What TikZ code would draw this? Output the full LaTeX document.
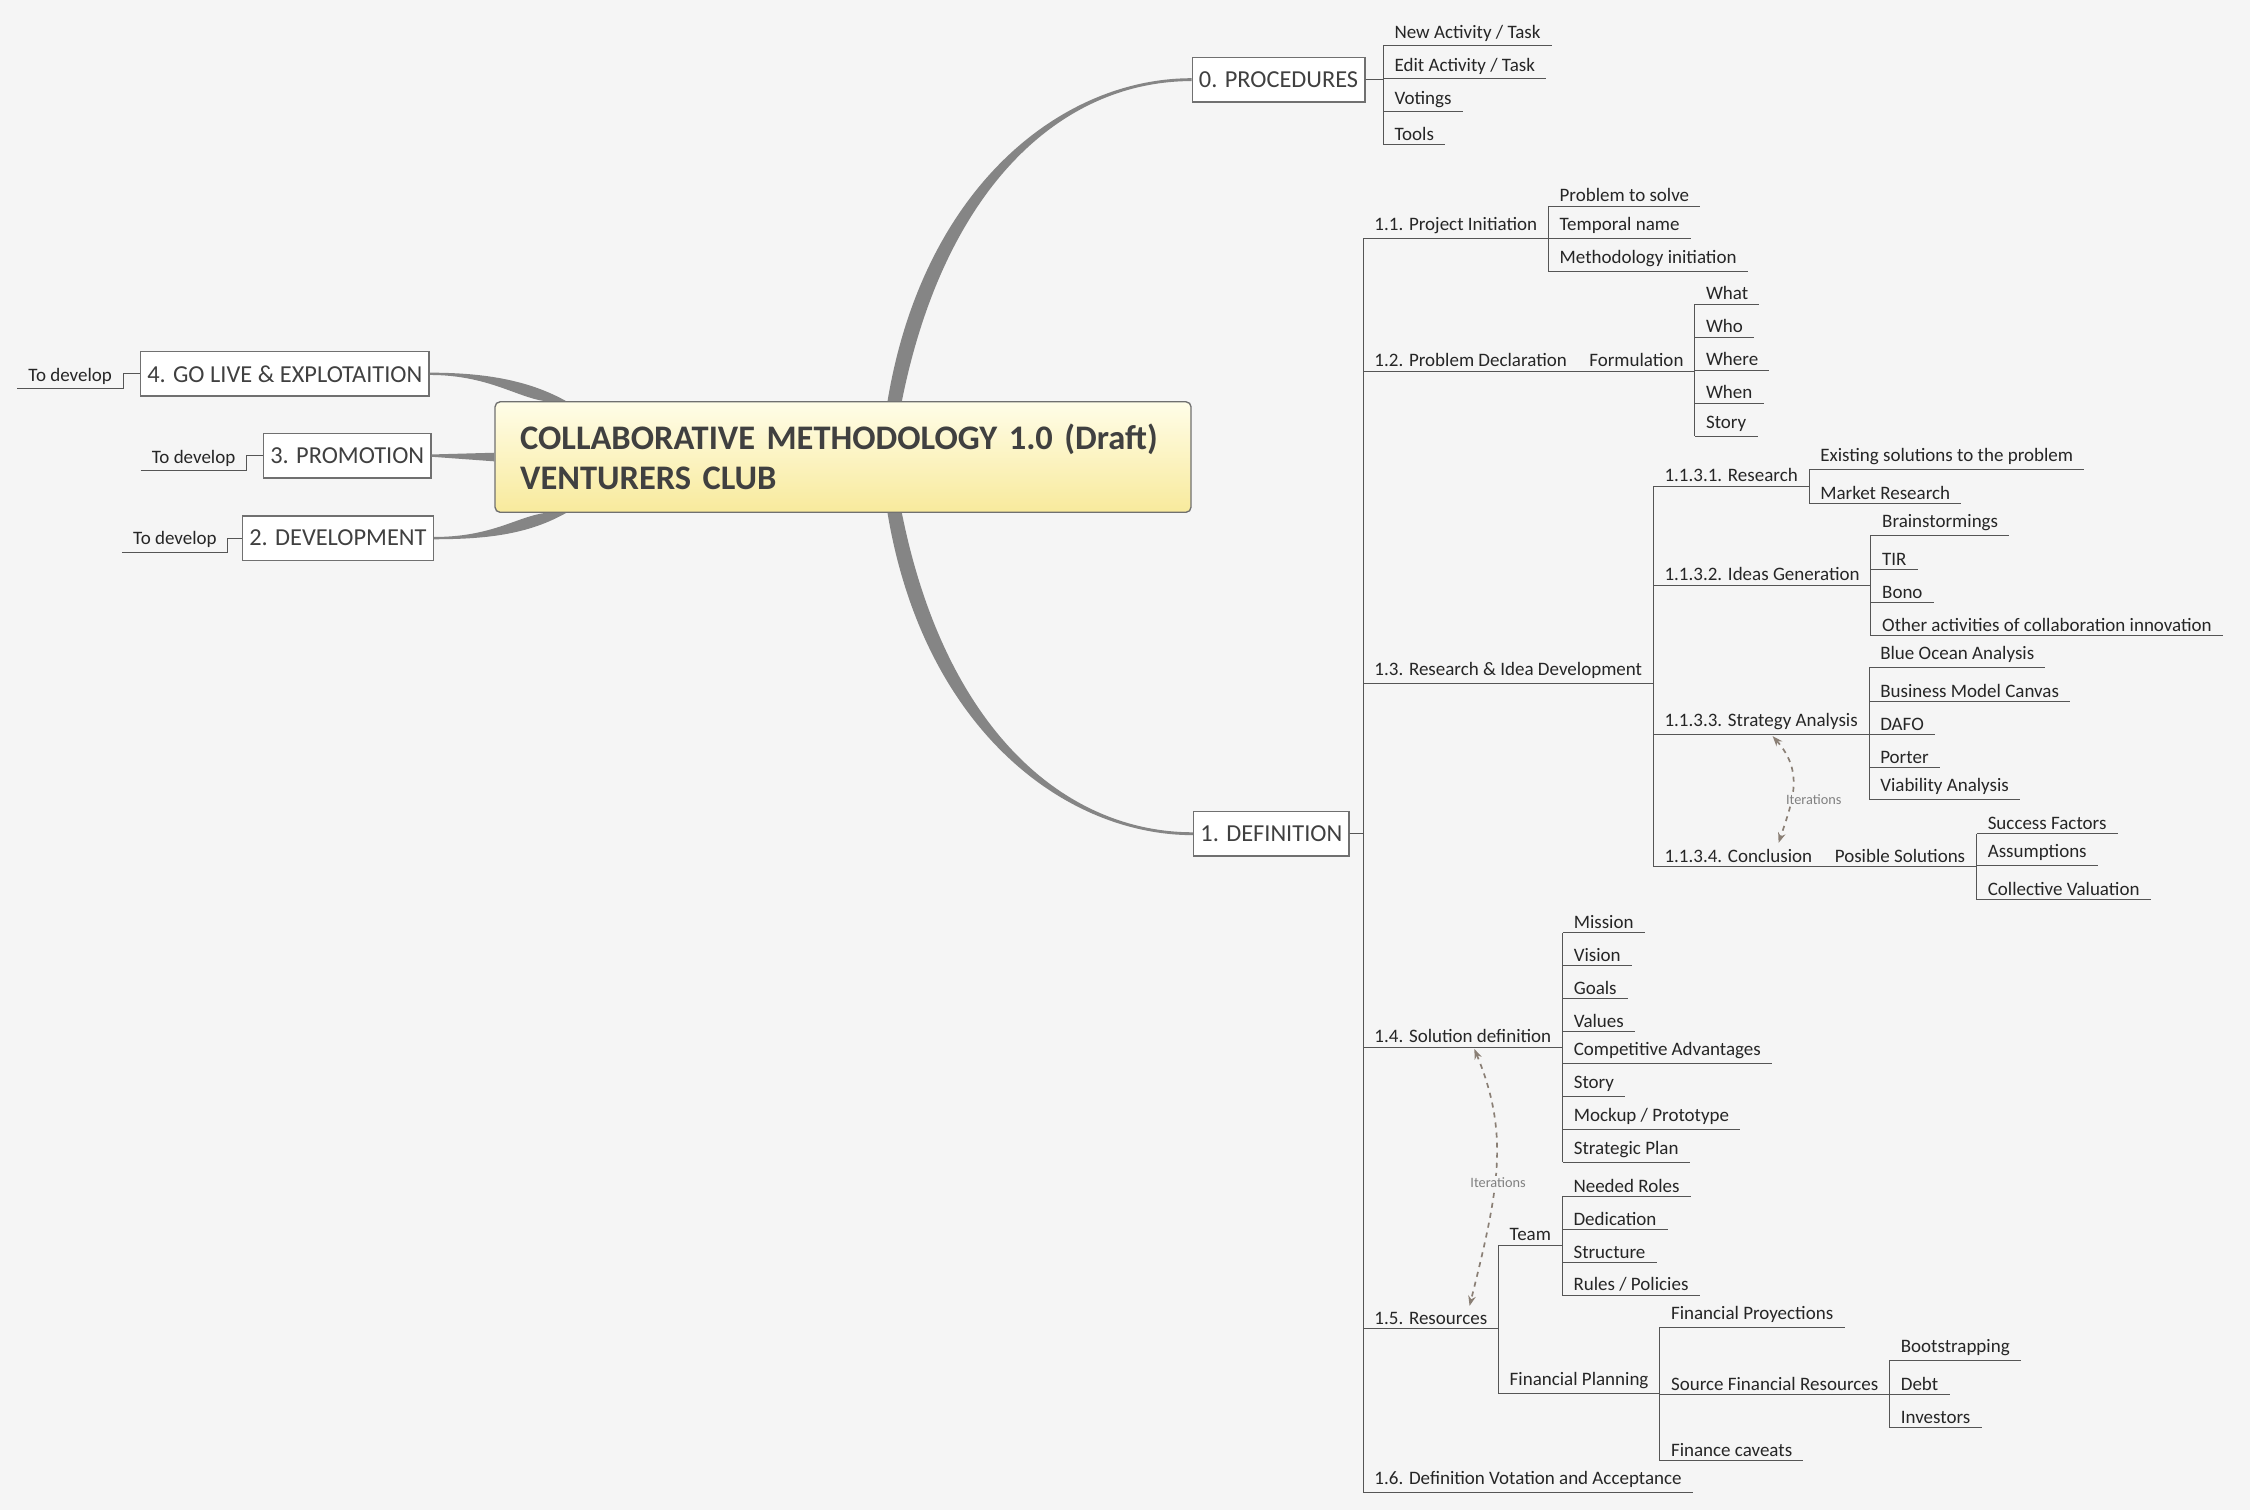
\documentclass[tikz,border=0pt]{standalone}
\usepackage{fontspec}
\setmainfont{Carlito}
\usetikzlibrary{arrows.meta,calc}

\definecolor{bg}{HTML}{F5F5F5}
\definecolor{linegray}{HTML}{555555}
\definecolor{boxgray}{HTML}{707070}
\definecolor{branchgray}{HTML}{858585}
\definecolor{itercol}{HTML}{8A7F75}
\definecolor{rootTop}{HTML}{FFFDE8}
\definecolor{rootBot}{HTML}{F8EA9C}

\tikzset{
    leaf/.style={anchor=south west, inner xsep=6.5pt, inner ysep=2.5pt,
        font=\fontsize{11.3}{13}\selectfont, text=black!85,
        append after command={(\tikzlastnode.south west) edge[draw=linegray, line width=0.6pt] (\tikzlastnode.south east)}},
    link/.style={draw=linegray, line width=0.6pt},
    box/.style={draw=boxgray, fill=white, line width=0.8pt, minimum height=0.93cm,
        inner xsep=4pt, font=\fontsize{14.5}{16}\selectfont, text=black!75},
    branch/.style={fill=branchgray},
    iter/.style={draw=itercol, dashed, line width=1pt, {Stealth[length=6pt]}-{Stealth[length=6pt]}},
    iterlabel/.style={font=\fontsize{8.5}{10}\selectfont, text=black!50, fill=bg, inner sep=1pt}
}

% child node hung under its parent's underline
\newcommand\twig[4]{%
    \node[leaf] (#1) at (#2.south east |- 0,#3) {#4};
    \draw[link] (#2.south east) -| (#1.south west);
}
% child node hung from a boxed topic
\newcommand\boxtwig[5]{%
    \node[leaf] (#1) at (#3,#4) {#5};
    \draw[link] (#2.east) -| (#1.south west);
}

\begin{document}
\begin{tikzpicture}[x=0.03cm, y=-0.03cm]
    \path[use as bounding box, fill=bg] (0,0) rectangle (1568,1052);

    % Central topic and main topics
    \node[draw=boxgray, line width=0.8pt, rounded corners=3pt, top color=rootTop, bottom color=rootBot,
        minimum width=14.55cm, minimum height=2.31cm, inner xsep=0.51cm, text width=13.5cm, align=left,
        text=black!75, font=\fontsize{20.5}{24}\selectfont\bfseries] (root) at (587.5,318.5)
        {COLLABORATIVE METHODOLOGY 1.0 (Draft)\\VENTURERS CLUB};
    \node[box] (proc) at (891,55.5) {0. PROCEDURES};
    \node[box] (def) at (886,581) {1. DEFINITION};
    \node[box] (golive) at (198.5,260.5) {4. GO LIVE \& EXPLOTAITION};
    \node[box] (promo) at (242,317.5) {3. PROMOTION};
    \node[box] (dev) at (235.5,375) {2. DEVELOPMENT};

    % Tapered branches
    \fill[branch] ($(root.north)+(31,0)$) .. controls +(25,-150) and +(-90,0) .. ($(proc.west)+(0,-1)$)
        -- ($(proc.west)+(0,1)$) .. controls +(-90,0) and +(30,-150) .. ($(root.north)+(41,0)$) -- cycle;
    \fill[branch] ($(root.south)+(31,0)$) .. controls +(25,150) and +(-90,0) .. ($(def.west)+(0,1)$)
        -- ($(def.west)+(0,-1)$) .. controls +(-90,0) and +(30,150) .. ($(root.south)+(41,0)$) -- cycle;
    \fill[branch] ($(root.north west)+(50,0)$) .. controls +(-25,-14) and +(40,0) .. ($(golive.east)+(0,-0.8)$)
        -- ($(golive.east)+(0,0.8)$) .. controls +(40,0) and +(-20,-3) .. ($(root.north west)+(35,0)$) -- cycle;
    \fill[branch] ($(root.west)+(0,-3)$) -- ($(promo.east)+(0,-0.8)$) -- ($(promo.east)+(0,0.8)$) -- ($(root.west)+(0,3)$) -- cycle;
    \fill[branch] ($(root.south west)+(50,0)$) .. controls +(-25,14) and +(40,0) .. ($(dev.east)+(0,0.8)$)
        -- ($(dev.east)+(0,-0.8)$) .. controls +(40,0) and +(-20,3) .. ($(root.south west)+(35,0)$) -- cycle;

    % Left side
    \node[leaf] (todo4) at (12,271) {To develop};
    \node[leaf] (todo3) at (98,328) {To develop};
    \node[leaf] (todo2) at (85,385) {To develop};
    \draw[link] (golive.west) -| (todo4.south east);
    \draw[link] (promo.west) -| (todo3.south east);
    \draw[link] (dev.west) -| (todo2.south east);

    % Procedures
    \boxtwig{newact}{proc}{964}{32}{New Activity / Task}
    \boxtwig{editact}{proc}{964}{55}{Edit Activity / Task}
    \boxtwig{votings}{proc}{964}{78}{Votings}
    \boxtwig{tools}{proc}{964}{101}{Tools}

    % Definition
    \boxtwig{s11}{def}{950}{166}{1.1. Project Initiation}
    \boxtwig{s12}{def}{950}{259}{1.2. Problem Declaration}
    \boxtwig{s13}{def}{950}{476}{1.3. Research \& Idea Development}
    \boxtwig{s14}{def}{950}{730}{1.4. Solution definition}
    \boxtwig{s15}{def}{950}{926}{1.5. Resources}
    \boxtwig{s16}{def}{950}{1040}{1.6. Definition Votation and Acceptance}

    % 1.1
    \twig{problem}{s11}{144}{Problem to solve}
    \twig{tempname}{s11}{166}{Temporal name}
    \twig{methinit}{s11}{189}{Methodology initiation}

    % 1.2
    \twig{form}{s12}{259}{Formulation}
    \twig{what}{form}{212}{What}
    \twig{who}{form}{235}{Who}
    \twig{where}{form}{258}{Where}
    \twig{when}{form}{281}{When}
    \twig{story}{form}{304}{Story}

    % 1.3
    \twig{s131}{s13}{339}{1.1.3.1. Research}
    \twig{s132}{s13}{408}{1.1.3.2. Ideas Generation}
    \twig{s133}{s13}{512}{1.1.3.3. Strategy Analysis}
    \twig{s134}{s13}{604}{1.1.3.4. Conclusion}
    \twig{existing}{s131}{327}{Existing solutions to the problem}
    \twig{market}{s131}{351}{Market Research}
    \twig{brain}{s132}{373}{Brainstormings}
    \twig{tir}{s132}{397}{TIR}
    \twig{bono}{s132}{420}{Bono}
    \twig{other}{s132}{443}{Other activities of collaboration innovation}
    \twig{blue}{s133}{465}{Blue Ocean Analysis}
    \twig{canvas}{s133}{489}{Business Model Canvas}
    \twig{dafo}{s133}{512}{DAFO}
    \twig{porter}{s133}{535}{Porter}
    \twig{viab}{s133}{557}{Viability Analysis}
    \twig{posible}{s134}{604}{Posible Solutions}
    \twig{success}{posible}{581}{Success Factors}
    \twig{assump}{posible}{603}{Assumptions}
    \twig{collect}{posible}{627}{Collective Valuation}

    % 1.4
    \twig{mission}{s14}{650}{Mission}
    \twig{vision}{s14}{673}{Vision}
    \twig{goals}{s14}{696}{Goals}
    \twig{values}{s14}{719}{Values}
    \twig{compadv}{s14}{741}{Competitive Advantages}
    \twig{story2}{s14}{764}{Story}
    \twig{mockup}{s14}{787}{Mockup / Prototype}
    \twig{strplan}{s14}{810}{Strategic Plan}

    % 1.5
    \twig{team}{s15}{868}{Team}
    \twig{finplan}{s15}{971}{Financial Planning}
    \twig{roles}{team}{834}{Needed Roles}
    \twig{dedic}{team}{857}{Dedication}
    \twig{struct}{team}{880}{Structure}
    \twig{rules}{team}{903}{Rules / Policies}
    \twig{finproy}{finplan}{925}{Financial Proyections}
    \twig{source}{finplan}{972}{Source Financial Resources}
    \twig{caveats}{finplan}{1018}{Finance caveats}
    \twig{boot}{source}{948}{Bootstrapping}
    \twig{debt}{source}{972}{Debt}
    \twig{invest}{source}{995}{Investors}

    % Iterations
    \draw[iter] ($(s133.south)+(8,1)$) .. controls +(22,25) and +(10,-30) .. ($(s134.north)+(28,-1)$);
    \node[iterlabel] (iter1) at (1264,557) {Iterations};
    \draw[iter] ($(s14.south)+(8,1)$) .. controls +(25,60) and +(20,-80) .. ($(s15.north)+(27,-1)$);
    \node[iterlabel] (iter2) at (1044,824) {Iterations};
\end{tikzpicture}
\end{document}
